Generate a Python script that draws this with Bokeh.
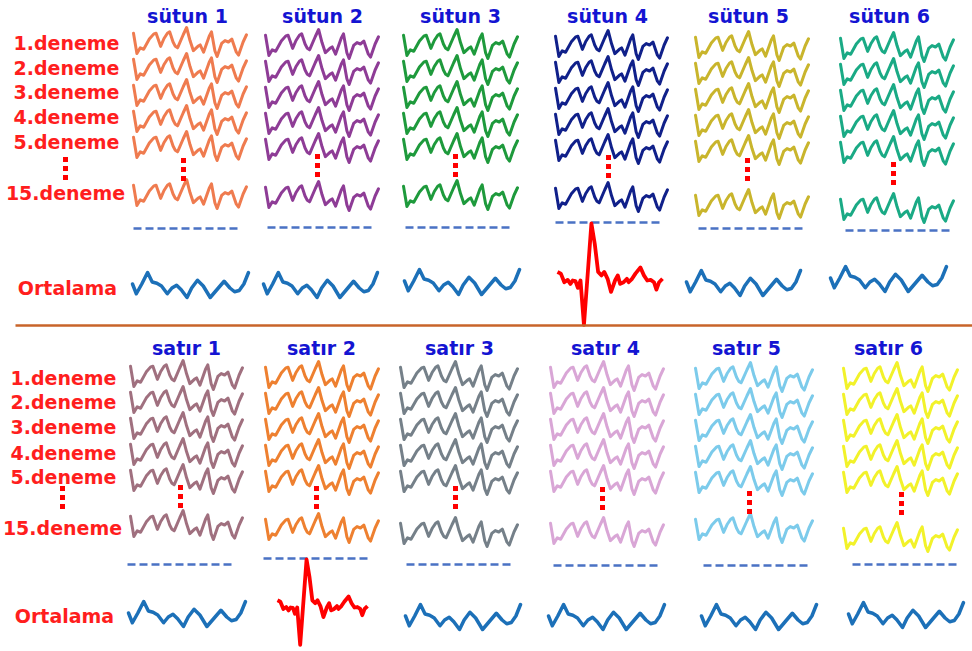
from bokeh.plotting import figure
from bokeh.models import Range1d
from bokeh.core.properties import value
from bokeh.embed import file_html
from bokeh.resources import INLINE

# ---------------- data ----------------
col_titles = ["sütun 1", "sütun 2", "sütun 3", "sütun 4", "sütun 5", "sütun 6"]
row_titles = ["satır 1", "satır 2", "satır 3", "satır 4", "satır 5", "satır 6"]
trial_labels = ["1.deneme", "2.deneme", "3.deneme", "4.deneme", "5.deneme"]
last_label = "15.deneme"
avg_label = "Ortalama"

# single-trial EEG shape (t: 0..1 along trace, v: 0 bottom .. 1 top)
trial_t = [0.00, 0.03, 0.06, 0.09, 0.14, 0.18, 0.20, 0.24, 0.27, 0.30, 0.32, 0.35,
           0.37, 0.39, 0.44, 0.47, 0.50, 0.53, 0.57, 0.59, 0.62, 0.67, 0.69, 0.72,
           0.74, 0.78, 0.81, 0.84, 0.87, 0.91, 0.93, 0.97, 1.00]
trial_v = [0.80, 0.10, 0.30, 0.25, 0.60, 0.78, 0.80, 0.35, 0.62, 0.80, 0.85, 0.50,
           0.35, 0.30, 0.75, 1.00, 0.55, 0.20, 0.35, 0.40, 0.15, 0.70, 0.85, 0.20,
           0.00, 0.45, 0.55, 0.50, 0.60, 0.15, 0.05, 0.50, 0.75]

# averaged (non-target) shape
avg_t = [0.00, 0.033, 0.08, 0.13, 0.17, 0.21, 0.25, 0.30, 0.34, 0.38, 0.42, 0.47,
         0.51, 0.56, 0.61, 0.67, 0.74, 0.79, 0.84, 0.88, 0.92, 0.96, 1.00]
avg_v = [0.54, 0.15, 0.54, 1.00, 0.62, 0.57, 0.46, 0.15, 0.38, 0.49, 0.31, 0.00,
         0.38, 0.69, 0.46, 0.00, 0.38, 0.65, 0.38, 0.23, 0.28, 0.54, 1.00]

# averaged target (P300) shape (v: 0 baseline, 1 peak)
p300_t = [0.000, 0.032, 0.065, 0.097, 0.123, 0.145, 0.171, 0.194, 0.219, 0.252,
          0.323, 0.355, 0.387, 0.419, 0.445, 0.477, 0.510, 0.548, 0.574, 0.597,
          0.629, 0.661, 0.677, 0.710, 0.742, 0.790, 0.823, 0.855, 0.887, 0.919,
          0.942, 0.968, 1.000]
p300_v = [0.15, 0.12, -0.03, 0.01, -0.06, 0.00, -0.01, -0.13, 0.00, -0.78,
          1.00, 0.64, 0.15, 0.09, 0.15, 0.03, -0.20, 0.00, 0.09, -0.06,
          -0.03, 0.03, -0.03, 0.03, 0.12, 0.23, 0.09, 0.00, 0.01, -0.03,
          -0.16, -0.03, 0.03]

top_target = 3      # sütun 4
bottom_target = 1   # satır 2

# ---------------- layout & style ----------------
top_colors = ["#EF7B4F", "#8E3C96", "#1E9A3C", "#10208A", "#C9B52C", "#1AAA85"]
bot_colors = ["#A0707F", "#EE8030", "#758089", "#D9A6D6", "#7CCBEB", "#F2F22A"]
AVG_COLOR = "#1C70B8"
RED = "#FF0000"
LABEL_RED = "#FF1E1E"
TITLE_BLUE = "#1414D2"
DASH_COLOR = "#4A72C4"
SEP_COLOR = "#C8642A"

top_layout = dict(
    title_x=[187, 322, 460, 607, 748, 889], title_y=15,
    tx0=[133, 265, 403, 555, 695, 840], tx1=[246, 378, 517, 667, 808, 953],
    first=[27, 29, 29, 30, 31, 32], last=[179, 181, 180, 182, 189, 193],
    dx0=[133, 267, 405, 555, 698, 845], dx1=[240, 374, 512, 663, 805, 952],
    dy=[228, 227, 227, 222, 228, 230],
    dotx=[183, 317, 455, 608, 747, 893], doty=[160, 156, 156, 157, 160, 164],
    ax0=[132, 263, 404, 557, 686, 830], ax1=[248, 377, 519, 662, 800, 946],
    ay=[272, 272, 269, 280, 270, 266],
)
bot_layout = dict(
    title_x=[186, 321, 459, 605, 746, 888], title_y=347,
    tx0=[130, 265, 400, 550, 695, 843], tx1=[242, 378, 517, 663, 812, 957],
    first=[360, 361, 361, 361, 362, 362], last=[510, 513, 517, 517, 513, 522],
    dx0=[127, 263, 406, 553, 703, 852], dx1=[233, 370, 513, 658, 808, 959],
    dy=[564, 558, 564, 565, 565, 564],
    dotx=[180, 316, 455, 602, 749, 901], doty=[487, 488, 488, 489, 493, 494],
    ax0=[128, 277, 405, 548, 701, 848], ax1=[245, 367, 520, 664, 816, 963],
    ay=[601, 607, 604, 604, 604, 602],
)
label_layout_top = dict(x=66, ys=[42, 67, 91, 116, 141], last_y=192, dots_y=159, avg_y=287)
label_layout_bot = dict(x=63, ys=[377, 401, 426, 452, 476], last_y=527, dots_y=488, avg_y=615)

TRIAL_H = 29
TRIAL_STEP = 26
AVG_H = 25
P300_SCALE = [57, 48]

FONT = value("DejaVu Sans")

p = figure(width=972, height=651, x_range=Range1d(0, 972), y_range=Range1d(651, 0),
           output_backend="svg", toolbar_location=None, min_border=0,
           x_axis_location=None, y_axis_location=None)
p.xgrid.visible = False
p.ygrid.visible = False
p.outline_line_color = None
p.background_fill_color = "white"


def draw_text(x, y, t, color):
    p.text(x=[x], y=[y], text=[t], text_font=FONT, text_font_style="bold",
           text_font_size="19px", text_color=color, text_align="center",
           text_baseline="middle")


def draw_trace(ts, vs, x0, x1, ytop, h, color, width):
    xs = [x0 + t * (x1 - x0) for t in ts]
    ys = [ytop + (1 - v) * h for v in vs]
    p.line(xs, ys, line_color=color, line_width=width, line_join="round", line_cap="round")


def draw_dots(x, y0):
    p.scatter(x=[x, x, x], y=[y0, y0 + 9, y0 + 18], marker="square", size=5,
              fill_color=RED, line_color=None)


def draw_half(titles, colors, L, LL, target, half):
    for i in range(6):
        draw_text(L["title_x"][i], L["title_y"], titles[i], TITLE_BLUE)
        for k in range(5):
            draw_trace(trial_t, trial_v, L["tx0"][i], L["tx1"][i],
                       L["first"][i] + k * TRIAL_STEP, TRIAL_H, colors[i], 3.0)
        draw_trace(trial_t, trial_v, L["tx0"][i], L["tx1"][i], L["last"][i],
                   TRIAL_H, colors[i], 3.0)
        draw_dots(L["dotx"][i], L["doty"][i])
        p.line([L["dx0"][i], L["dx1"][i]], [L["dy"][i], L["dy"][i]],
               line_color=DASH_COLOR, line_width=2.6, line_dash="8 4")
        if i == target:
            sc = P300_SCALE[half]
            xs = [L["ax0"][i] + t * (L["ax1"][i] - L["ax0"][i]) for t in p300_t]
            ys = [L["ay"][i] - v * sc for v in p300_v]
            p.line(xs, ys, line_color=RED, line_width=3.8, line_join="round")
        else:
            draw_trace(avg_t, avg_v, L["ax0"][i], L["ax1"][i], L["ay"][i],
                       AVG_H, AVG_COLOR, 3.5)
    for k, lab in enumerate(trial_labels):
        draw_text(LL["x"], LL["ys"][k], lab, LABEL_RED)
    draw_dots(LL["x"] - 1, LL["dots_y"])
    draw_text(LL["x"] - 1, LL["last_y"], last_label, LABEL_RED)
    draw_text(LL["x"] + 1, LL["avg_y"], avg_label, LABEL_RED)


draw_half(col_titles, top_colors, top_layout, label_layout_top, top_target, 0)
draw_half(row_titles, bot_colors, bot_layout, label_layout_bot, bottom_target, 1)

# separator between the two halves
p.line([15, 972], [325, 325], line_color=SEP_COLOR, line_width=2.6)

open("out.html", "w").write(file_html(p, INLINE))
